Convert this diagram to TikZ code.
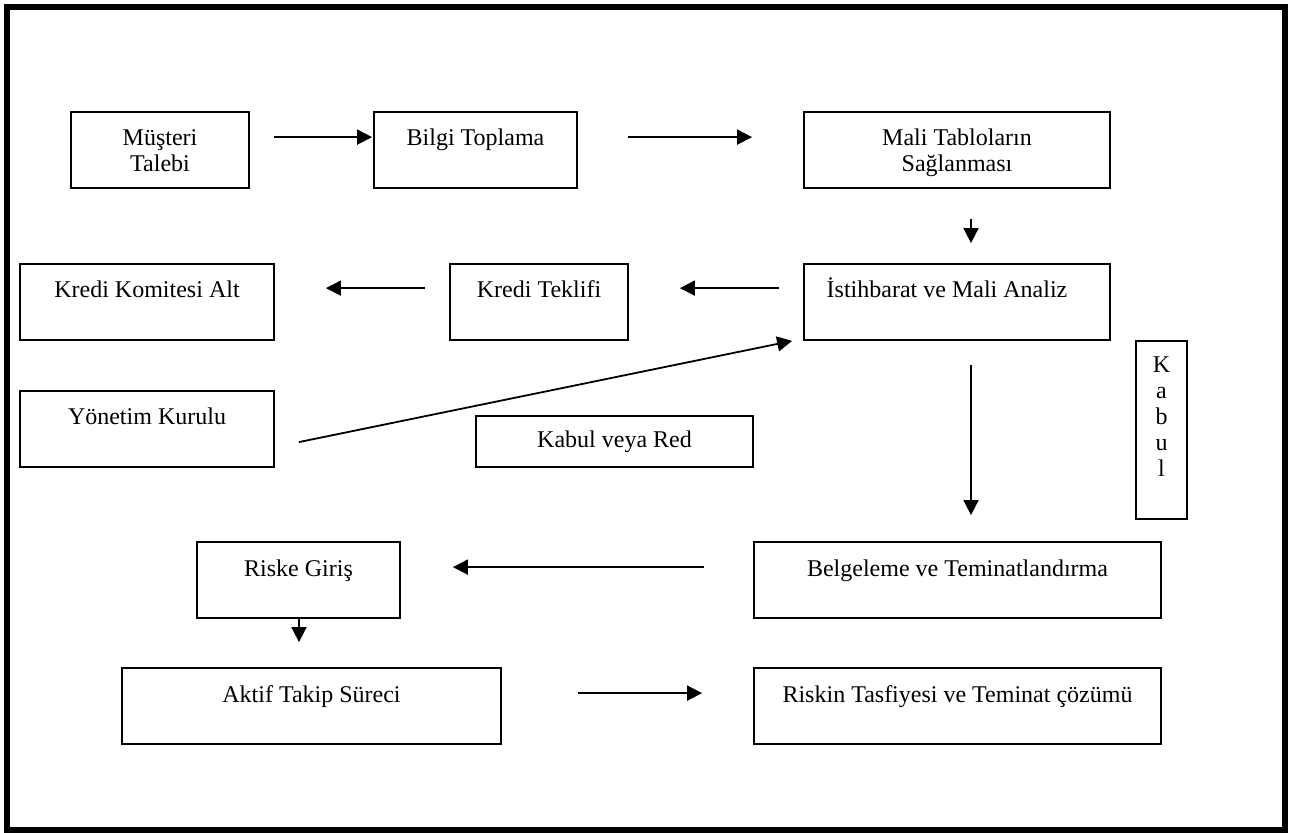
\documentclass[tikz,border=0pt]{standalone}
\usepackage{fontspec}
\setmainfont{Liberation Serif}
\usetikzlibrary{arrows.meta}
\begin{document}
\begin{tikzpicture}[x=0.5pt,y=-0.5pt,
  every node/.style={font=\fontsize{12pt}{13pt}\selectfont},
  box/.style={draw, line width=0.9pt, inner sep=0pt, text height=17pt, text depth=21pt, minimum height=38pt},
  arr/.style={line width=0.9pt, -{Triangle[length=7.5pt,width=7.5pt]}}]
\useasboundingbox (0,0) rectangle (1289,833);
% outer frame
\draw[line width=3pt] (7,7.5) rectangle (1284.5,829.5);

% process boxes
\node[box, minimum width=89pt]    (mt)   at (160,150)    {\begin{tabular}[t]{@{}c@{}}Müşteri\\Talebi\end{tabular}};
\node[box, minimum width=101.5pt] (bt)   at (475.5,150)  {Bilgi Toplama};
\node[box, minimum width=153pt]   (mali) at (957,150)    {\begin{tabular}[t]{@{}c@{}}Mali Tabloların\\Sağlanması\end{tabular}};
\node[box, minimum width=153pt]   (ist)  at (957,302)    {İstihbarat ve Mali Analiz\kern10pt};
\node[box, minimum width=89pt]    (kt)   at (539,302)    {Kredi Teklifi};
\node[box, minimum width=127pt]   (kk)   at (147,302)    {Kredi Komitesi Alt};
\node[box, minimum width=127pt]   (yk)   at (147,429)    {Yönetim Kurulu};
\node[box, minimum width=138.5pt, minimum height=25.5pt, text height=16pt, text depth=9.5pt]
                                  (kr)   at (614.5,441.5) {Kabul veya Red};
\node[box, minimum width=25.5pt, minimum height=89pt, text height=16pt, text depth=73pt]
                                  (kab)  at (1161.5,430) {\begin{tabular}[t]{@{}c@{}}K\\a\\b\\u\\l\end{tabular}};
\node[box, minimum width=203.5pt] (bel)  at (957.5,580)  {Belgeleme ve Teminatlandırma};
\node[box, minimum width=101.5pt] (rg)   at (298.5,580)  {Riske Giriş};
\node[box, minimum width=189.5pt] (at)   at (311.5,706)  {Aktif Takip Süreci};
\node[box, minimum width=203.5pt] (rt)   at (957.5,706)  {Riskin Tasfiyesi ve Teminat çözümü};

% connectors
\draw[arr] ([shift={(24,26)}]mt.north east)   -- ([shift={(-1,26)}]bt.north west);
\draw[arr] ([shift={(50,26)}]bt.north east)   -- ([shift={(-51,26)}]mali.north west);
\draw[arr] ([shift={(14,30)}]mali.south)      -- ([shift={(14,-20)}]ist.north);
\draw[arr] ([shift={(-24,25)}]ist.north west) -- ([shift={(51,25)}]kt.north east);
\draw[arr] ([shift={(-24,25)}]kt.north west)  -- ([shift={(51,25)}]kk.north east);
\draw[arr] ([shift={(24,52)}]yk.north east)   -- ([shift={(-11,0)}]ist.south west);
\draw[arr] ([shift={(14,24)}]ist.south)       -- ([shift={(13.5,-26)}]bel.north);
\draw[arr] ([shift={(-49,26)}]bel.north west) -- ([shift={(52,26)}]rg.north east);
\draw[arr] ([shift={(0.5,0)}]rg.south)        -- ([shift={(-12.5,-25)}]at.north);
\draw[arr] ([shift={(76,26)}]at.north east)   -- ([shift={(-51,26)}]rt.north west);
\end{tikzpicture}
\end{document}
